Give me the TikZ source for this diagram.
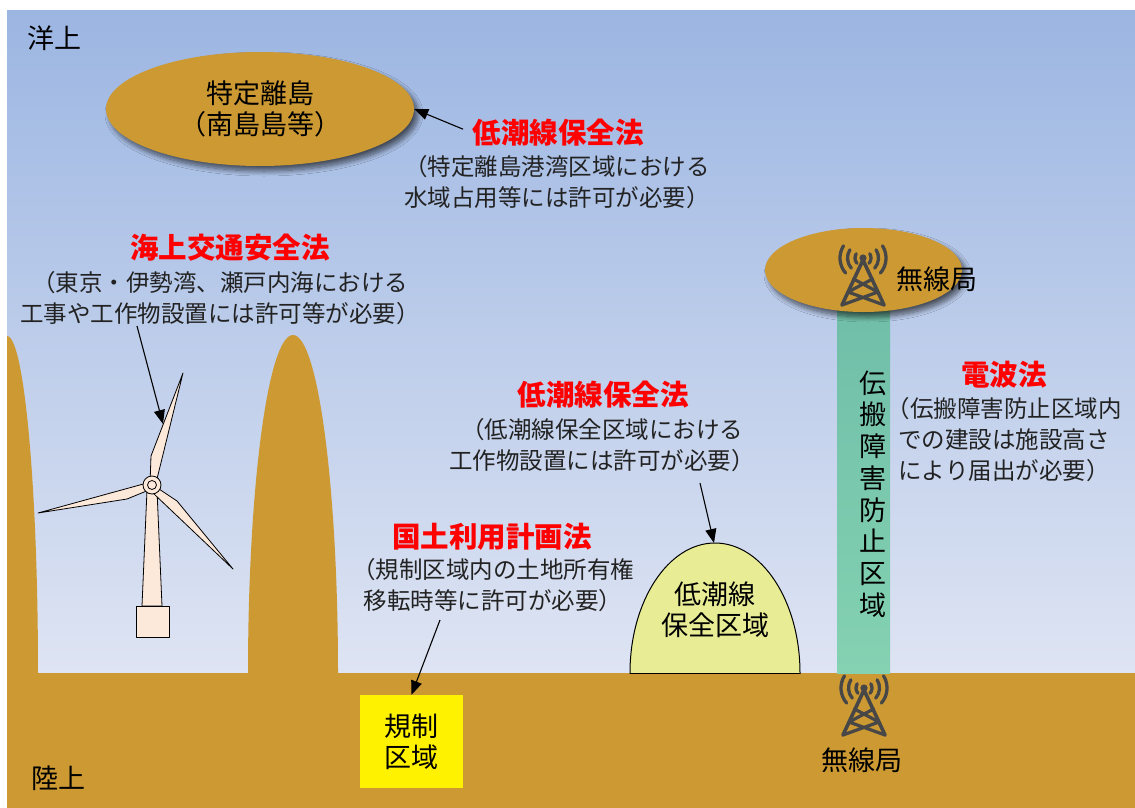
\documentclass[tikz,border=0pt]{standalone}
\usepackage{fontspec}
\setmainfont{Noto Sans CJK JP}
\usetikzlibrary{arrows.meta,shapes.geometric,shadows.blur}

\definecolor{skyTop}{HTML}{9CB6E2}
\definecolor{skyBot}{HTML}{DEE4F3}
\definecolor{ground}{HTML}{CC9933}
\definecolor{zoneTop}{HTML}{70BEA8}
\definecolor{zoneBot}{HTML}{84D2B2}
\definecolor{domeFill}{HTML}{E8EC94}
\definecolor{turbine}{HTML}{FDE9D9}
\definecolor{mastGray}{HTML}{474747}
\definecolor{noteText}{HTML}{222222}

\tikzset{
  lbl/.style={font=\fontsize{27}{31}\selectfont, text=black, align=center, inner sep=0pt},
  lawtitle/.style={font=\bfseries\fontsize{28.5}{32}\selectfont, text=red, inner sep=0pt},
  note/.style={font=\fontsize{23.5}{31}\selectfont, text=noteText, align=center, inner sep=0pt},
  arr/.style={-{Triangle[length=14pt,width=11pt]}, line width=1.1pt, black},
  isle/.style={ellipse, fill=ground, inner sep=0pt,
    blur shadow={shadow xshift=4pt, shadow yshift=-5pt, shadow blur radius=5pt,
                 shadow blur steps=10, shadow opacity=60}},
  turbpart/.style={fill=turbine, draw=black, line width=0.8pt, line join=round},
  mast/.pic={
    \begin{scope}[draw=mastGray, line cap=round, line join=round]
      \fill[mastGray] (0pt,0pt) circle[radius=3.6pt];
      \draw[line width=3.6pt] (-21pt,-47pt) -- (0pt,-2pt) -- (21pt,-47pt);
      \draw[line width=3.2pt] (-9.5pt,-21pt) -- (15pt,-34pt)
                              (9.5pt,-21pt) -- (-15pt,-34pt)
                              (-15pt,-34pt) -- (21pt,-47pt)
                              (15pt,-34pt) -- (-21pt,-47pt);
      \foreach \r in {8,15.5,23}{
        \draw[line width=3.3pt] (32:\r pt) arc[start angle=32, end angle=-41, radius=\r pt];
        \draw[line width=3.3pt] (148:\r pt) arc[start angle=148, end angle=221, radius=\r pt];
      }
    \end{scope}
  }
}

\begin{document}
\begin{tikzpicture}[x=1pt,y=-1pt]
\useasboundingbox (0,0) rectangle (1135,808);
\fill[white] (0,0) rectangle (1135,808);

% sky and land
\shade[top color=skyTop, bottom color=skyBot] (7,11) rectangle (1135,673);
\fill[ground] (7,673) rectangle (1135,808);

% coastal hills
\begin{scope}
  \clip (7,11) rectangle (1135,673.5);
  \fill[ground] (7,673) ellipse[x radius=31, y radius=337];
  \fill[ground] (293,673) ellipse[x radius=45, y radius=338];
\end{scope}

% low-tide-line conservation zone (dome)
\begin{scope}
  \clip (600,500) rectangle (830,673.6);
  \fill[domeFill, draw=black, line width=1pt] (715,673) ellipse[x radius=85, y radius=130];
\end{scope}
\draw[line width=1pt] (630,673) -- (800,673);
\coordinate (domeTop) at (714,543);
\node[lbl] (domeLabel) at (715,610) {低潮線\\保全区域};

% radio propagation protection zone
\shade[top color=zoneTop, bottom color=zoneBot] (837,305) rectangle (890,673);
\node[lbl, font=\fontsize{27}{31.7}\selectfont] (zoneLabel) at (873,494)
  {伝\\搬\\障\\害\\防\\止\\区\\域};

% islands
\node[isle, minimum width=308pt, minimum height=114pt, lbl] (island) at (260,109)
  {特定離島\\（南島島等）};
\node[isle, minimum width=197pt, minimum height=84pt] (stationIsle) at (863.5,270) {};

% radio stations
\pic at (863,258) {mast};
\node[lbl] (stationTopLabel) at (937,279) {無線局};
\pic at (864,688) {mast};
\node[lbl] (stationLandLabel) at (862,760) {無線局};

% regulated area
\node[fill=yellow, minimum width=103pt, minimum height=93pt, inner sep=0pt, lbl]
  (regbox) at (411.5,741.5) {規制\\区域};

% offshore wind turbine
\fill[turbpart] (147,490) -- (157,490) -- (162,606) -- (142,606) -- cycle;
\draw[turbpart] (136,606) rectangle (169,637);
\draw[turbpart] (150,484) -- (151,456) -- (183,373) -- (156,483) -- cycle;
\draw[turbpart] (147,483) -- (38,513) -- (127,499) -- (149,490) -- cycle;
\draw[turbpart] (156,487) -- (177,501) -- (233,569) -- (153,493) -- cycle;
\draw[turbpart] (152,485) circle[radius=9];
\draw[turbpart] (152,485) circle[radius=4.5];
\coordinate (bladeHit) at (163,424);

% area labels
\node[lbl, anchor=west] (seaLabel) at (27,38) {洋上};
\node[lbl, anchor=west] (landLabel) at (31,778) {陸上};

% laws and notes
\node[lawtitle] (law1) at (558,133) {低潮線保全法};
\node[note] (note1) at (557,182) {（特定離島港湾区域における\\水域占用等には許可が必要）};

\node[lawtitle] (law2) at (230,248) {海上交通安全法};
\node[note] (note2) at (220,298) {（東京・伊勢湾、瀬戸内海における\\工事や工作物設置には許可等が必要）};
\coordinate (note2Foot) at (137,326);

\node[lawtitle] (law3) at (603,395) {低潮線保全法};
\node[note] (note3) at (602,445.5) {（低潮線保全区域における\\工作物設置には許可が必要）};
\coordinate (note3Foot) at (700,483);

\node[lawtitle] (law4) at (492,537) {国土利用計画法};
\node[note] (note4) at (493,585.5) {（規制区域内の土地所有権\\移転時等に許可が必要）};
\coordinate (note4Foot) at (440,620);

\node[lawtitle] (law5) at (1004,375) {電波法};
\node[note] (note5) at (1004,440) {（伝搬障害防止区域内\\での建設は施設高さ\\により届出が必要）};

% pointers
\draw[arr, shorten <=10pt] (law1.west) -- (island.east);
\draw[arr] (note2Foot) -- (bladeHit);
\draw[arr] (note3Foot) -- (domeTop);
\draw[arr] (note4Foot) -- (regbox.north);
\end{tikzpicture}
\end{document}
